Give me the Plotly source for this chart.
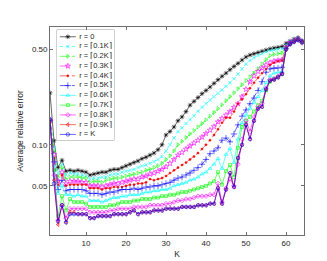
import plotly.graph_objects as go

# K values on the x axis
K = list(range(1, 65))

labels = ["r = 0", "r = \u23080.1K\u2309", "r = \u23080.2K\u2309", "r = \u23080.3K\u2309",
          "r = \u23080.4K\u2309", "r = \u23080.5K\u2309", "r = \u23080.6K\u2309",
          "r = \u23080.7K\u2309", "r = \u23080.8K\u2309", "r = \u23080.9K\u2309", "r = K"]

err_r0 = [0.240, 0.107, 0.068, 0.077, 0.064, 0.065, 0.064, 0.065, 0.064, 0.063,
          0.060, 0.061, 0.062, 0.063, 0.063, 0.065, 0.066, 0.066, 0.068, 0.070,
          0.072, 0.074, 0.076, 0.079, 0.081, 0.084, 0.087, 0.092, 0.100, 0.118,
          0.125, 0.135, 0.150, 0.160, 0.175, 0.195, 0.208, 0.222, 0.237, 0.250,
          0.265, 0.282, 0.300, 0.318, 0.335, 0.355, 0.375, 0.395, 0.418, 0.440,
          0.455, 0.465, 0.475, 0.485, 0.495, 0.505, 0.512, 0.518, 0.525, 0.555,
          0.575, 0.595, 0.610, 0.580]
err_r01 = [0.150, 0.095, 0.062, 0.072, 0.060, 0.062, 0.061, 0.061, 0.060, 0.059,
           0.056, 0.057, 0.057, 0.058, 0.058, 0.060, 0.061, 0.061, 0.063, 0.064,
           0.065, 0.066, 0.068, 0.070, 0.071, 0.073, 0.075, 0.078, 0.082, 0.090,
           0.100, 0.112, 0.125, 0.133, 0.143, 0.153, 0.163, 0.176, 0.188, 0.200,
           0.212, 0.225, 0.238, 0.252, 0.268, 0.285, 0.305, 0.330, 0.360, 0.390,
           0.415, 0.435, 0.450, 0.465, 0.480, 0.490, 0.495, 0.500, 0.505, 0.540,
           0.570, 0.590, 0.600, 0.575]
err_r02 = [0.150, 0.090, 0.058, 0.068, 0.056, 0.058, 0.058, 0.058, 0.057, 0.057,
           0.053, 0.054, 0.054, 0.053, 0.055, 0.056, 0.057, 0.057, 0.058, 0.059,
           0.060, 0.061, 0.062, 0.063, 0.065, 0.066, 0.068, 0.070, 0.073, 0.078,
           0.083, 0.090, 0.100, 0.106, 0.113, 0.120, 0.127, 0.135, 0.143, 0.152,
           0.162, 0.172, 0.184, 0.196, 0.210, 0.225, 0.240, 0.257, 0.275, 0.295,
           0.315, 0.335, 0.360, 0.390, 0.420, 0.450, 0.460, 0.465, 0.470, 0.530,
           0.565, 0.585, 0.600, 0.575]
err_r03 = [0.150, 0.085, 0.054, 0.063, 0.052, 0.054, 0.054, 0.054, 0.053, 0.053,
           0.050, 0.050, 0.050, 0.049, 0.050, 0.051, 0.052, 0.052, 0.053, 0.054,
           0.055, 0.056, 0.056, 0.058, 0.059, 0.061, 0.062, 0.064, 0.066, 0.069,
           0.073, 0.078, 0.084, 0.088, 0.093, 0.098, 0.103, 0.108, 0.114, 0.121,
           0.128, 0.136, 0.147, 0.156, 0.165, 0.175, 0.188, 0.200, 0.225, 0.255,
           0.290, 0.320, 0.345, 0.365, 0.385, 0.400, 0.410, 0.415, 0.420, 0.520,
           0.560, 0.580, 0.595, 0.570]
err_r04 = [0.150, 0.080, 0.051, 0.060, 0.050, 0.051, 0.051, 0.051, 0.051, 0.051,
           0.048, 0.048, 0.048, 0.047, 0.048, 0.048, 0.049, 0.049, 0.049, 0.050,
           0.051, 0.051, 0.052, 0.052, 0.053, 0.056, 0.055, 0.056, 0.057, 0.059,
           0.062, 0.065, 0.068, 0.071, 0.074, 0.078, 0.082, 0.087, 0.093, 0.100,
           0.108, 0.118, 0.130, 0.145, 0.158, 0.158, 0.175, 0.200, 0.215, 0.235,
           0.260, 0.285, 0.310, 0.335, 0.360, 0.385, 0.400, 0.410, 0.415, 0.515,
           0.555, 0.580, 0.595, 0.570]
err_r05 = [0.150, 0.075, 0.047, 0.055, 0.046, 0.047, 0.047, 0.047, 0.047, 0.046,
           0.044, 0.044, 0.044, 0.043, 0.044, 0.045, 0.045, 0.046, 0.047, 0.047,
           0.047, 0.048, 0.047, 0.048, 0.049, 0.049, 0.050, 0.050, 0.051, 0.052,
           0.053, 0.055, 0.057, 0.058, 0.060, 0.062, 0.065, 0.068, 0.072, 0.078,
           0.086, 0.090, 0.095, 0.108, 0.112, 0.105, 0.120, 0.140, 0.162, 0.180,
           0.200, 0.220, 0.250, 0.290, 0.340, 0.360, 0.365, 0.365, 0.370, 0.510,
           0.550, 0.575, 0.590, 0.565]
err_r06 = [0.150, 0.070, 0.044, 0.050, 0.043, 0.043, 0.042, 0.043, 0.042, 0.042,
           0.039, 0.039, 0.039, 0.038, 0.039, 0.040, 0.041, 0.041, 0.042, 0.042,
           0.043, 0.043, 0.043, 0.044, 0.045, 0.045, 0.046, 0.046, 0.047, 0.047,
           0.048, 0.050, 0.051, 0.052, 0.053, 0.055, 0.056, 0.058, 0.061, 0.063,
           0.067, 0.072, 0.079, 0.067, 0.085, 0.094, 0.074, 0.110, 0.145, 0.165,
           0.185, 0.205, 0.225, 0.250, 0.285, 0.320, 0.335, 0.340, 0.345, 0.505,
           0.550, 0.575, 0.590, 0.565]
err_r07 = [0.150, 0.065, 0.030, 0.042, 0.033, 0.040, 0.038, 0.038, 0.038, 0.037,
           0.035, 0.035, 0.035, 0.035, 0.035, 0.036, 0.036, 0.037, 0.038, 0.038,
           0.038, 0.039, 0.039, 0.040, 0.040, 0.040, 0.041, 0.041, 0.042, 0.042,
           0.043, 0.043, 0.044, 0.045, 0.045, 0.046, 0.047, 0.048, 0.049, 0.050,
           0.052, 0.054, 0.063, 0.051, 0.064, 0.071, 0.058, 0.095, 0.135, 0.150,
           0.160, 0.175, 0.195, 0.210, 0.250, 0.290, 0.305, 0.315, 0.330, 0.505,
           0.548, 0.572, 0.588, 0.565]
err_r08 = [0.150, 0.060, 0.028, 0.036, 0.029, 0.034, 0.034, 0.034, 0.034, 0.034,
           0.032, 0.032, 0.032, 0.032, 0.032, 0.033, 0.033, 0.034, 0.034, 0.034,
           0.034, 0.035, 0.035, 0.035, 0.035, 0.036, 0.036, 0.036, 0.036, 0.037,
           0.037, 0.038, 0.039, 0.039, 0.040, 0.040, 0.041, 0.042, 0.042, 0.042,
           0.043, 0.043, 0.052, 0.038, 0.048, 0.056, 0.050, 0.072, 0.110, 0.150,
           0.125, 0.160, 0.190, 0.200, 0.260, 0.300, 0.305, 0.318, 0.335, 0.505,
           0.550, 0.572, 0.590, 0.565]
err_r09 = [0.150, 0.055, 0.026, 0.036, 0.027, 0.032, 0.032, 0.031, 0.031, 0.031,
           0.029, 0.029, 0.030, 0.030, 0.030, 0.030, 0.031, 0.031, 0.031, 0.031,
           0.032, 0.033, 0.031, 0.032, 0.032, 0.032, 0.033, 0.033, 0.033, 0.034,
           0.034, 0.034, 0.034, 0.035, 0.035, 0.035, 0.035, 0.036, 0.036, 0.036,
           0.037, 0.037, 0.048, 0.037, 0.047, 0.062, 0.049, 0.080, 0.100, 0.140,
           0.110, 0.150, 0.184, 0.190, 0.255, 0.295, 0.300, 0.312, 0.330, 0.500,
           0.548, 0.570, 0.590, 0.565]
err_rK = [0.154, 0.052, 0.0275, 0.036, 0.027, 0.031, 0.031, 0.031, 0.031, 0.031,
          0.029, 0.029, 0.030, 0.030, 0.030, 0.030, 0.031, 0.031, 0.031, 0.031,
          0.032, 0.033, 0.031, 0.032, 0.032, 0.032, 0.033, 0.033, 0.033, 0.034,
          0.034, 0.034, 0.034, 0.035, 0.035, 0.035, 0.035, 0.036, 0.036, 0.036,
          0.037, 0.037, 0.048, 0.037, 0.047, 0.062, 0.049, 0.080, 0.100, 0.140,
          0.110, 0.150, 0.184, 0.190, 0.255, 0.295, 0.300, 0.312, 0.330, 0.500,
          0.548, 0.570, 0.590, 0.565]

series = [err_r0, err_r01, err_r02, err_r03, err_r04, err_r05,
          err_r06, err_r07, err_r08, err_r09, err_rK]

# matlab style: colour, dash, marker, size
styles = [
    ("#000000", "solid", "asterisk-open", 4),
    ("#00FFFF", "dot", "x-thin-open", 3.5),
    ("#00FF00", "dashdot", "triangle-right-open", 3.5),
    ("#FF00FF", "dash", "star-open", 4),
    ("#FF0000", "dashdot", "circle", 2),
    ("#0000FF", "dashdot", "cross-thin-open", 4.5),
    ("#00FFFF", "solid", "triangle-up-open", 3.5),
    ("#00FF00", "solid", "square-open", 3),
    ("#FF00FF", "solid", "diamond-open", 3.5),
    ("#FF0000", "solid", "triangle-left-open", 3.5),
    ("#0000FF", "solid", "circle-open", 3.5),
]

fig = go.Figure()

for vals, (col, dash, sym, ms) in zip(series, styles):
    fig.add_trace(go.Scatter(
        x=K, y=vals, mode="lines+markers",
        line=dict(color=col, width=0.6, dash=dash),
        marker=dict(symbol=sym, size=ms, color=col, line=dict(color=col, width=0.6)),
        showlegend=False, hoverinfo="skip"))

# hand drawn legend on its own little axes (plotly legend rows are too tall)
n = len(labels)
for i, (col, dash, sym, ms) in enumerate(styles):
    fig.add_trace(go.Scatter(
        x=[0.05, 0.33], y=[i, i], mode="lines", xaxis="x2", yaxis="y2",
        line=dict(color=col, width=0.6, dash=dash), showlegend=False, hoverinfo="skip"))
    fig.add_trace(go.Scatter(
        x=[0.19], y=[i], mode="markers", xaxis="x2", yaxis="y2",
        marker=dict(symbol=sym, size=ms, color=col, line=dict(color=col, width=0.6)),
        showlegend=False, hoverinfo="skip"))
fig.add_trace(go.Scatter(
    x=[0.39] * n, y=list(range(n)), text=labels, mode="text", xaxis="x2", yaxis="y2",
    textposition="middle right", textfont=dict(size=7.5, color="#262626", family="Liberation Sans, Arial"),
    showlegend=False, hoverinfo="skip", cliponaxis=False))

axis_col = "#6e6e6e"
tick_font = dict(size=8, color="#262626", family="Liberation Sans, Arial")

fig.update_layout(
    width=327, height=261,
    margin=dict(l=42, r=31, t=19, b=29),
    paper_bgcolor="white", plot_bgcolor="white",
    font=dict(family="Liberation Sans, Arial", color="#262626"),
    xaxis=dict(
        range=[1, 64.5], tickvals=[10, 20, 30, 40, 50, 60],
        ticks="inside", ticklen=3, tickcolor=axis_col, tickwidth=0.8,
        showline=True, linecolor=axis_col, linewidth=0.8, mirror="ticks",
        showgrid=False, zeroline=False, tickfont=tick_font,
        title=dict(text="K", font=dict(size=8.5), standoff=4)),
    yaxis=dict(
        type="log", range=[-1.6615, -0.1367],
        tickvals=[0.05, 0.1, 0.5], ticktext=["0.05", "0.10", "0.50"],
        ticks="inside", ticklen=3, tickcolor=axis_col, tickwidth=0.8,
        showline=True, linecolor=axis_col, linewidth=0.8, mirror="ticks",
        showgrid=False, zeroline=False, tickfont=tick_font,
        title=dict(text="Average relative error", font=dict(size=8.5), standoff=6)),
    xaxis2=dict(domain=[0.0276, 0.252], anchor="y2", range=[0, 1], visible=False, fixedrange=True),
    yaxis2=dict(domain=[0.4554, 0.9859], anchor="x2", range=[10.6, -0.7], visible=False, fixedrange=True),
    shapes=[dict(type="rect", xref="paper", yref="paper",
                 x0=0.0276, x1=0.252, y0=0.4554, y1=0.9859,
                 line=dict(color="#8c8c8c", width=0.8), fillcolor="white", layer="below")],
)

fig.write_html("out.html")
